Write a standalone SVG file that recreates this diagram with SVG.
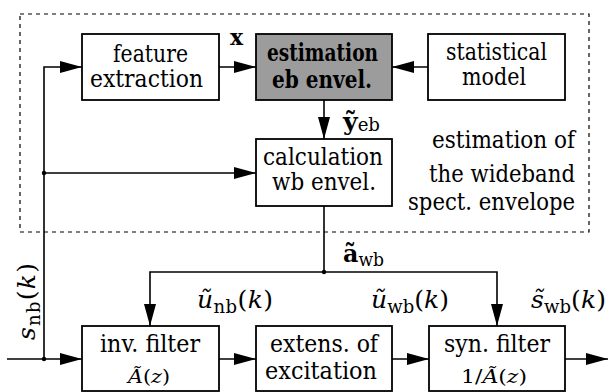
<svg xmlns="http://www.w3.org/2000/svg" width="608" height="392" viewBox="0 0 608 392" font-family="'DejaVu Serif', serif">
<style>
.box{fill:#fff;stroke:#000;stroke-width:1.8}
.gray{fill:#9c9c9c;stroke:#000;stroke-width:1.8}
.t{font-size:24px;fill:#000}
.tb{font-size:24px;font-weight:bold;fill:#000}
.sm{font-size:18px;fill:#000}
.lbl{font-size:25px;fill:#000}
.it{font-style:italic}
.sub{font-size:18px}
.line{fill:none;stroke:#000;stroke-width:1.6}
.dash{fill:none;stroke:#000;stroke-width:1.2;stroke-dasharray:4 4}
</style>
<defs>
<marker id="ah" markerUnits="userSpaceOnUse" markerWidth="22" markerHeight="12" refX="22" refY="6" orient="auto">
<path d="M0,0 L22,6 L0,12 z" fill="#000"/>
</marker>
</defs>
<rect class="dash" x="20" y="14" width="569" height="218"/>
<g id="feature">
<rect class="box" x="82" y="34" width="137" height="66"/>
<text class="t" x="113" y="62" textLength="75" lengthAdjust="spacingAndGlyphs">feature</text>
<text class="t" x="90" y="87" textLength="113" lengthAdjust="spacingAndGlyphs">extraction</text>
</g>
<g id="estimation">
<rect class="gray" x="256" y="34" width="136" height="66"/>
<text class="tb" x="267" y="61" textLength="111" lengthAdjust="spacingAndGlyphs">estimation</text>
<text class="tb" x="272" y="88" textLength="100" lengthAdjust="spacingAndGlyphs">eb envel.</text>
</g>
<g id="statistical">
<rect class="box" x="428" y="34" width="137" height="66"/>
<text class="t" x="446" y="60" textLength="101" lengthAdjust="spacingAndGlyphs">statistical</text>
<text class="t" x="462" y="85" textLength="64" lengthAdjust="spacingAndGlyphs">model</text>
</g>
<g id="calculation">
<rect class="box" x="256" y="139" width="136" height="67"/>
<text class="t" x="263" y="165" textLength="120" lengthAdjust="spacingAndGlyphs">calculation</text>
<text class="t" x="272" y="190" textLength="104" lengthAdjust="spacingAndGlyphs">wb envel.</text>
</g>
<g id="invfilter">
<rect class="box" x="82" y="326" width="137" height="65"/>
<text class="t" x="100" y="352" textLength="100" lengthAdjust="spacingAndGlyphs">inv. filter</text>
<text class="sm" x="128" y="383" textLength="42" lengthAdjust="spacingAndGlyphs"><tspan class="it">Ã</tspan>(<tspan class="it">z</tspan>)</text>
</g>
<g id="extension">
<rect class="box" x="256" y="326" width="136" height="65"/>
<text class="t" x="270" y="352" textLength="108" lengthAdjust="spacingAndGlyphs">extens. of</text>
<text class="t" x="265" y="379" textLength="112" lengthAdjust="spacingAndGlyphs">excitation</text>
</g>
<g id="synfilter">
<rect class="box" x="429" y="326" width="136" height="65"/>
<text class="t" x="444" y="352" textLength="106" lengthAdjust="spacingAndGlyphs">syn. filter</text>
<text class="sm" x="461" y="383" textLength="66" lengthAdjust="spacingAndGlyphs">1/<tspan class="it">Ã</tspan>(<tspan class="it">z</tspan>)</text>
</g>
<g id="region-label">
<text class="t" x="432" y="148" textLength="143" lengthAdjust="spacingAndGlyphs">estimation of</text>
<text class="t" x="429" y="182" textLength="146" lengthAdjust="spacingAndGlyphs">the wideband</text>
<text class="t" x="408" y="210" textLength="167" lengthAdjust="spacingAndGlyphs">spect. envelope</text>
</g>
<g id="connectors">
<path class="line" d="M7,359 L82,359" marker-end="url(#ah)"/>
<path class="line" d="M44,359 L44,67 L82,67" marker-end="url(#ah)"/>
<path class="line" d="M44,173 L256,173" marker-end="url(#ah)"/>
<path class="line" d="M219,67 L256,67" marker-end="url(#ah)"/>
<path class="line" d="M428,67 L392,67" marker-end="url(#ah)"/>
<path class="line" d="M324,100 L324,139" marker-end="url(#ah)"/>
<path class="line" d="M324,206 L324,272"/>
<path class="line" d="M324,272 L150,272 L150,326" marker-end="url(#ah)"/>
<path class="line" d="M324,272 L497,272 L497,326" marker-end="url(#ah)"/>
<path class="line" d="M219,359 L256,359" marker-end="url(#ah)"/>
<path class="line" d="M392,359 L429,359" marker-end="url(#ah)"/>
<path class="line" d="M565,359 L608,359" marker-end="url(#ah)"/>
<circle cx="44" cy="359" r="2.2"/>
<circle cx="44" cy="173" r="2.2"/>
<circle cx="324" cy="272" r="2.2"/>
</g>
<g id="labels">
<text class="lbl" x="230" y="45" style="font-weight:bold;font-size:22px">x</text>
<text class="lbl" x="343" y="130" textLength="37" lengthAdjust="spacingAndGlyphs"><tspan style="font-weight:bold">ỹ</tspan><tspan class="sub" dy="1">eb</tspan></text>
<text class="lbl" x="343" y="262" textLength="41" lengthAdjust="spacingAndGlyphs"><tspan style="font-weight:bold">ã</tspan><tspan class="sub" dy="4">wb</tspan></text>
<text class="lbl" x="197" y="308" textLength="76"><tspan class="it">ũ</tspan><tspan class="sub" dy="5">nb</tspan><tspan dy="-5">(</tspan><tspan class="it">k</tspan>)</text>
<text class="lbl" x="371" y="308" textLength="78"><tspan class="it">ũ</tspan><tspan class="sub" dy="5">wb</tspan><tspan dy="-5">(</tspan><tspan class="it">k</tspan>)</text>
<text class="lbl" x="531" y="308" textLength="75"><tspan class="it">s̃</tspan><tspan class="sub" dy="5">wb</tspan><tspan dy="-5">(</tspan><tspan class="it">k</tspan>)</text>
<text class="lbl" transform="translate(35,340) rotate(-90)" textLength="77"><tspan class="it">s</tspan><tspan class="sub" dy="5">nb</tspan><tspan dy="-5">(</tspan><tspan class="it">k</tspan>)</text>
</g>
</svg>
